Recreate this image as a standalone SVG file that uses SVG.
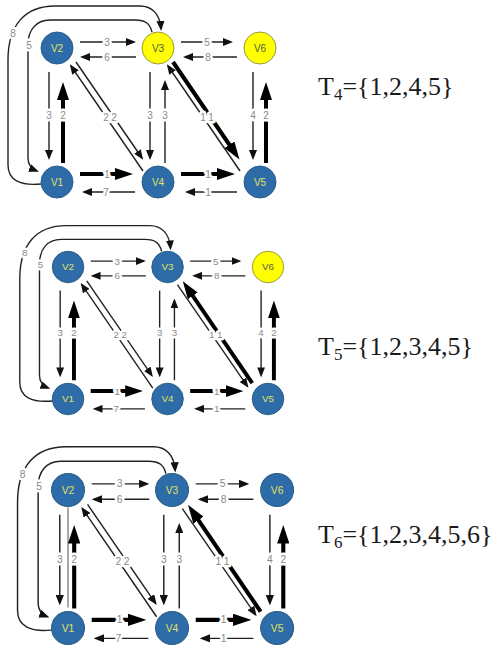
<svg xmlns="http://www.w3.org/2000/svg" width="496" height="647" viewBox="0 0 496 647">
  <defs>
    <!-- small arrowhead for ordinary edges -->
    <marker id="ah" viewBox="0 0 10 8" refX="8" refY="4" markerWidth="10" markerHeight="8" markerUnits="userSpaceOnUse" orient="auto">
      <path d="M0,0 L10,4 L0,8 z" fill="#111"/>
    </marker>
    <!-- large arrowhead for heavy (tree) edges -->
    <marker id="ahb" viewBox="0 0 18 12" refX="10" refY="6" markerWidth="18" markerHeight="12" markerUnits="userSpaceOnUse" orient="auto">
      <path d="M0,0 L18,6 L0,12 z" fill="#000"/>
    </marker>
  </defs>
  <style>
    .thin { fill: none; stroke: #222; stroke-width: 1.4; marker-end: url(#ah); }
    .thick { fill: none; stroke: #000; stroke-width: 4; marker-end: url(#ahb); }
    .plain { fill: none; stroke: #555; stroke-width: 1; }
    .lbl { font-family: "Liberation Sans", Arial, sans-serif; font-size: 10px; fill: #8a8a8a; text-anchor: middle; dominant-baseline: central; stroke: #fff; stroke-width: 5; stroke-linejoin: round; paint-order: stroke; }
    .nb { fill: #2d6ca8; stroke: #2a5e86; stroke-width: 1; }
    .ny { fill: #ffff00; stroke: #9a9a40; stroke-width: 1; }
    .tb { font-family: "Liberation Sans", Arial, sans-serif; font-size: 10px; fill: #e2e262; text-anchor: middle; dominant-baseline: central; }
    .ty { font-family: "Liberation Sans", Arial, sans-serif; font-size: 10px; fill: #555; text-anchor: middle; dominant-baseline: central; }
    .set { font-family: "Liberation Serif", "Times New Roman", serif; font-size: 26px; fill: #1a1a1a; }
  </style>
  <rect width="496" height="647" fill="#fff"/>

  <!-- ===== Step 4 ===== -->
  <g id="panel-1">
    <g id="p1-edges">
      <path class="thin" d="M80,42H134"/>
      <path class="thin" d="M136,57H82"/>
      <path class="thin" d="M181,42H231"/>
      <path class="thin" d="M237,57H185"/>
      <path class="thin" d="M49,72V158"/>
      <path class="thick" d="M63,163V90"/>
      <path class="thin" d="M150,72V158"/>
      <path class="thin" d="M165,163V82"/>
      <path class="thin" d="M253,72V158"/>
      <path class="thick" d="M266,163V90"/>
      <path class="thick" d="M80,174H125"/>
      <path class="thin" d="M135,192H84"/>
      <path class="thick" d="M181,174H227"/>
      <path class="thin" d="M237,192H187"/>
      <path class="thin" d="M76,62L142,158"/>
      <path class="thin" d="M143,171L71,66"/>
      <path class="thick" d="M173,62L235,153"/>
      <path class="thin" d="M240,171L168,66"/>
      <path class="thin" d="M41,184C20,186 8,180 8,165L8,60C8,25 25,6 55,6L140,6C152,6 160,14 161,29"/>
      <path class="thin" d="M152,32C150,24 146,20 135,20L50,20C36,20 28,30 28,45L28,158C28,165 32,169 37,171"/>
      <text class="lbl" x="107" y="42">3</text>
      <text class="lbl" x="107" y="57">6</text>
      <text class="lbl" x="207" y="42">5</text>
      <text class="lbl" x="208" y="57">8</text>
      <text class="lbl" x="49" y="115">3</text>
      <text class="lbl" x="63" y="115">2</text>
      <text class="lbl" x="150" y="115">3</text>
      <text class="lbl" x="165" y="115">3</text>
      <text class="lbl" x="253" y="115">4</text>
      <text class="lbl" x="266" y="115">2</text>
      <text class="lbl" x="107" y="174">1</text>
      <text class="lbl" x="106" y="192">7</text>
      <text class="lbl" x="208" y="174">1</text>
      <text class="lbl" x="208" y="192">1</text>
      <text class="lbl" x="106" y="117">2</text>
      <text class="lbl" x="114" y="117">2</text>
      <text class="lbl" x="203" y="117">1</text>
      <text class="lbl" x="211" y="117">1</text>
      <text class="lbl" x="13" y="33">8</text>
      <text class="lbl" x="29" y="45">5</text>
    </g>
    <g id="p1-v2"><circle class="nb" cx="57" cy="48" r="16"/><text class="tb" x="57" y="48">V2</text></g>
    <g id="p1-v3"><circle class="ny" cx="158" cy="48" r="16"/><text class="ty" x="158" y="48">V3</text></g>
    <g id="p1-v6"><circle class="ny" cx="260" cy="48" r="16"/><text class="ty" x="260" y="48">V6</text></g>
    <g id="p1-v1"><circle class="nb" cx="57" cy="182" r="16"/><text class="tb" x="57" y="182">V1</text></g>
    <g id="p1-v4"><circle class="nb" cx="158" cy="182" r="16"/><text class="tb" x="158" y="182">V4</text></g>
    <g id="p1-v5"><circle class="nb" cx="260" cy="182" r="16"/><text class="tb" x="260" y="182">V5</text></g>
  </g>
  <text id="set-4" class="set" x="318" y="95">T<tspan font-size="17" dy="5">4</tspan><tspan dy="-5">={1,2,4,5}</tspan></text>

  <!-- ===== Step 5 ===== -->
  <g id="panel-2" transform="translate(11.9,219.7) scale(0.985)">
    <g id="p2-edges">
      <path class="thin" d="M80,42H134"/>
      <path class="thin" d="M136,57H82"/>
      <path class="thin" d="M181,42H231"/>
      <path class="thin" d="M237,57H185"/>
      <path class="thin" d="M49,72V158"/>
      <path class="thick" d="M63,163V90"/>
      <path class="thin" d="M150,72V158"/>
      <path class="thin" d="M165,163V82"/>
      <path class="thin" d="M253,72V158"/>
      <path class="thick" d="M266,163V90"/>
      <path class="thick" d="M80,174H125"/>
      <path class="thin" d="M135,192H84"/>
      <path class="thick" d="M181,174H227"/>
      <path class="thin" d="M237,192H187"/>
      <path class="thin" d="M76,62L142,158"/>
      <path class="thin" d="M143,171L71,66"/>
      <path class="thick" d="M244,166L178,69"/>
      <path class="thin" d="M168,66L239,169"/>
      <path class="thin" d="M41,184C20,186 8,180 8,165L8,60C8,25 25,6 55,6L140,6C152,6 160,14 161,29"/>
      <path class="thin" d="M152,32C150,24 146,20 135,20L50,20C36,20 28,30 28,45L28,158C28,165 32,169 37,171"/>
      <text class="lbl" x="107" y="42">3</text>
      <text class="lbl" x="107" y="57">6</text>
      <text class="lbl" x="207" y="42">5</text>
      <text class="lbl" x="208" y="57">8</text>
      <text class="lbl" x="49" y="115">3</text>
      <text class="lbl" x="63" y="115">2</text>
      <text class="lbl" x="150" y="115">3</text>
      <text class="lbl" x="165" y="115">3</text>
      <text class="lbl" x="253" y="115">4</text>
      <text class="lbl" x="266" y="115">2</text>
      <text class="lbl" x="107" y="174">1</text>
      <text class="lbl" x="106" y="192">7</text>
      <text class="lbl" x="208" y="174">1</text>
      <text class="lbl" x="208" y="192">1</text>
      <text class="lbl" x="106" y="117">2</text>
      <text class="lbl" x="114" y="117">2</text>
      <text class="lbl" x="203" y="117">1</text>
      <text class="lbl" x="211" y="117">1</text>
      <text class="lbl" x="13" y="33">8</text>
      <text class="lbl" x="29" y="45">5</text>
    </g>
    <g id="p2-v2"><circle class="nb" cx="57" cy="48" r="16"/><text class="tb" x="57" y="48">V2</text></g>
    <g id="p2-v3"><circle class="nb" cx="158" cy="48" r="16"/><text class="tb" x="158" y="48">V3</text></g>
    <g id="p2-v6"><circle class="ny" cx="260" cy="48" r="16"/><text class="ty" x="260" y="48">V6</text></g>
    <g id="p2-v1"><circle class="nb" cx="57" cy="182" r="16"/><text class="tb" x="57" y="182">V1</text></g>
    <g id="p2-v4"><circle class="nb" cx="158" cy="182" r="16"/><text class="tb" x="158" y="182">V4</text></g>
    <g id="p2-v5"><circle class="nb" cx="260" cy="182" r="16"/><text class="tb" x="260" y="182">V5</text></g>
  </g>
  <text id="set-5" class="set" x="318" y="355">T<tspan font-size="17" dy="5">5</tspan><tspan dy="-5">={1,2,3,4,5}</tspan></text>

  <!-- ===== Step 6 ===== -->
  <g id="panel-3" transform="translate(9.3,440.6) scale(1.03)">
    <g id="p3-edges">
      <path class="plain" d="M57,65V162"/>
      <path class="thin" d="M80,42H134"/>
      <path class="thin" d="M136,57H82"/>
      <path class="thin" d="M181,42H231"/>
      <path class="thin" d="M237,57H185"/>
      <path class="thin" d="M49,72V158"/>
      <path class="thick" d="M63,163V90"/>
      <path class="thin" d="M150,72V158"/>
      <path class="thin" d="M165,163V82"/>
      <path class="thin" d="M253,72V158"/>
      <path class="thick" d="M266,163V90"/>
      <path class="thick" d="M80,174H125"/>
      <path class="thin" d="M135,192H84"/>
      <path class="thick" d="M181,174H227"/>
      <path class="thin" d="M237,192H187"/>
      <path class="thin" d="M76,62L142,158"/>
      <path class="thin" d="M143,171L71,66"/>
      <path class="thick" d="M244,166L178,69"/>
      <path class="thin" d="M168,66L239,169"/>
      <path class="thin" d="M41,184C20,186 8,180 8,165L8,60C8,25 25,6 55,6L140,6C152,6 160,14 161,29"/>
      <path class="thin" d="M152,32C150,24 146,20 135,20L50,20C36,20 28,30 28,45L28,158C28,165 32,169 37,171"/>
      <text class="lbl" x="107" y="42">3</text>
      <text class="lbl" x="107" y="57">6</text>
      <text class="lbl" x="207" y="42">5</text>
      <text class="lbl" x="208" y="57">8</text>
      <text class="lbl" x="49" y="115">3</text>
      <text class="lbl" x="63" y="115">2</text>
      <text class="lbl" x="150" y="115">3</text>
      <text class="lbl" x="165" y="115">3</text>
      <text class="lbl" x="253" y="115">4</text>
      <text class="lbl" x="266" y="115">2</text>
      <text class="lbl" x="107" y="174">1</text>
      <text class="lbl" x="106" y="192">7</text>
      <text class="lbl" x="208" y="174">1</text>
      <text class="lbl" x="208" y="192">1</text>
      <text class="lbl" x="106" y="117">2</text>
      <text class="lbl" x="114" y="117">2</text>
      <text class="lbl" x="203" y="117">1</text>
      <text class="lbl" x="211" y="117">1</text>
      <text class="lbl" x="13" y="33">8</text>
      <text class="lbl" x="29" y="45">5</text>
    </g>
    <g id="p3-v2"><circle class="nb" cx="57" cy="48" r="16"/><text class="tb" x="57" y="48">V2</text></g>
    <g id="p3-v3"><circle class="nb" cx="158" cy="48" r="16"/><text class="tb" x="158" y="48">V3</text></g>
    <g id="p3-v6"><circle class="nb" cx="260" cy="48" r="16"/><text class="tb" x="260" y="48">V6</text></g>
    <g id="p3-v1"><circle class="nb" cx="57" cy="182" r="16"/><text class="tb" x="57" y="182">V1</text></g>
    <g id="p3-v4"><circle class="nb" cx="158" cy="182" r="16"/><text class="tb" x="158" y="182">V4</text></g>
    <g id="p3-v5"><circle class="nb" cx="260" cy="182" r="16"/><text class="tb" x="260" y="182">V5</text></g>
  </g>
  <text id="set-6" class="set" x="318" y="543">T<tspan font-size="17" dy="5">6</tspan><tspan dy="-5">={1,2,3,4,5,6}</tspan></text>
</svg>
